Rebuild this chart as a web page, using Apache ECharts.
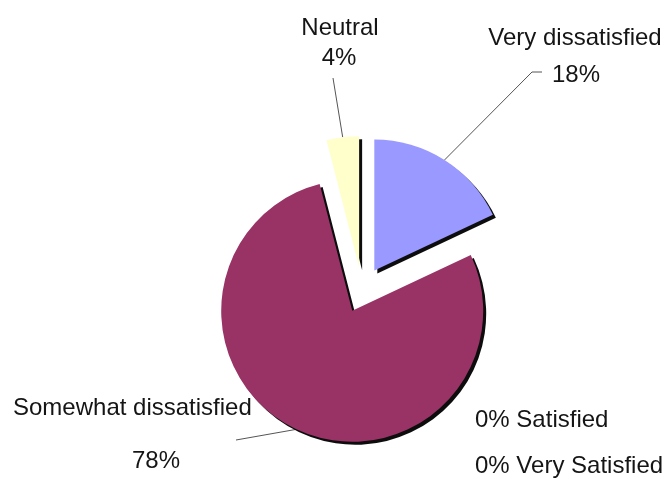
<!DOCTYPE html>
<html>
<head>
<meta charset="utf-8">
<script src="https://cdn.jsdelivr.net/npm/echarts@6/dist/echarts.min.js"></script>
<style>
  html, body { margin: 0; padding: 0; background: #ffffff; }
  #chart { width: 667px; height: 479px; }
</style>
</head>
<body>
<div id="chart"></div>
<script>
// Survey answers (percent of respondents), clockwise from 12 o'clock
const categories = ['Very dissatisfied', 'Somewhat dissatisfied', 'Neutral', 'Satisfied', 'Very Satisfied'];
const shares = [18, 78, 4, 0, 0];
const sliceColors = ['#9999FF', '#993366', '#FFFFCC', '#CCFFFF', '#660066'];

// Pie geometry
const PIE_CENTER = [362, 290];
const PIE_RADIUS = 131;
const EXPLODE = 23;

const LABEL_FONT = '24px "Liberation Sans", Arial, sans-serif';
const LABEL_COLOR = '#151515';

// Label placement: name line, percent line and the leader line's bend/end points
const labelSpots = [
  { name: [575, 38, 'center'], pct: [576, 75, 'center'], leader: [[532, 72], [542, 72]] },
  { name: [13, 408, 'left'], pct: [156, 461, 'center'], leader: [[236, 440]] },
  { name: [340, 28, 'center'], pct: [339, 58, 'center'], leader: [[333, 78]] },
  { inline: [475, 420, 'left'] },
  { inline: [475, 466, 'left'] }
];

const chart = echarts.init(document.getElementById('chart'), null, { renderer: 'canvas' });

chart.setOption({
  animation: false,
  backgroundColor: '#ffffff',
  series: [{
    type: 'pie',
    center: PIE_CENTER,
    radius: PIE_RADIUS,
    startAngle: 90,
    clockwise: true,
    selectedMode: 'multiple',
    selectedOffset: EXPLODE,
    emphasis: { disabled: true },
    label: { show: false },
    labelLine: { show: false },
    itemStyle: {
      borderWidth: 0,
      shadowColor: 'rgba(0,0,0,0.95)',
      shadowBlur: 0,
      shadowOffsetX: 3,
      shadowOffsetY: 3
    },
    data: categories.map(function (name, i) {
      return { name: name, value: shares[i], selected: true, itemStyle: { color: sliceColors[i] } };
    })
  }]
});

// Outer midpoint of a slice's arc, including its explode offset
function arcMidpoint(idx) {
  let layout = null;
  try {
    layout = chart.getModel().getSeriesByIndex(0).getData().getItemLayout(idx);
  } catch (e) { layout = null; }
  let cx, cy, r, mid;
  if (layout && layout.r != null) {
    cx = layout.cx; cy = layout.cy; r = layout.r;
    mid = (layout.startAngle + layout.endAngle) / 2;
  } else {
    const total = shares.reduce(function (a, b) { return a + b; }, 0);
    let acc = 0;
    for (let k = 0; k < idx; k++) acc += shares[k];
    const a0 = -Math.PI / 2 + (acc / total) * Math.PI * 2;
    const a1 = a0 + (shares[idx] / total) * Math.PI * 2;
    cx = PIE_CENTER[0]; cy = PIE_CENTER[1]; r = PIE_RADIUS;
    mid = (a0 + a1) / 2;
  }
  return [cx + Math.cos(mid) * (r + EXPLODE), cy + Math.sin(mid) * (r + EXPLODE)];
}

function textEl(str, spot) {
  return {
    type: 'text',
    x: spot[0],
    y: spot[1],
    silent: true,
    style: {
      text: str,
      font: LABEL_FONT,
      fill: LABEL_COLOR,
      align: spot[2],
      verticalAlign: 'middle',
      textAlign: spot[2],
      textVerticalAlign: 'middle'
    }
  };
}

const overlay = [];
categories.forEach(function (name, i) {
  const spot = labelSpots[i];
  const pctText = shares[i] + '%';
  if (spot.inline) {
    overlay.push(textEl(pctText + ' ' + name, spot.inline));
    return;
  }
  overlay.push({
    type: 'polyline',
    silent: true,
    shape: { points: [arcMidpoint(i)].concat(spot.leader) },
    style: { stroke: '#555555', lineWidth: 1, fill: null }
  });
  overlay.push(textEl(name, spot.name));
  overlay.push(textEl(pctText, spot.pct));
});

chart.setOption({ graphic: { elements: overlay } });
</script>
</body>
</html>
